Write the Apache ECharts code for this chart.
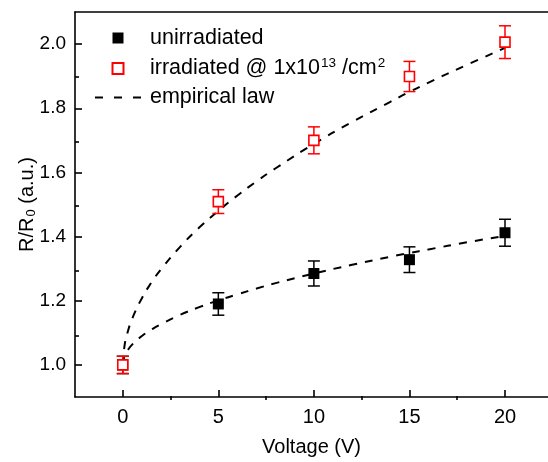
<!DOCTYPE html>
<html>
<head>
<meta charset="utf-8">
<script src="https://cdn.jsdelivr.net/npm/echarts@6/dist/echarts.min.js"></script>
<style>
html, body { margin: 0; padding: 0; background: #fff; }
#chart { width: 548px; height: 462px; }
</style>
</head>
<body>
<div id="chart"></div>
<script>
// measured points: voltage, R/R0, error
var voltages = [0, 5, 10, 15, 20];
var unirradiated = [1.0, 1.19, 1.285, 1.328, 1.412];
var unirradiatedErr = [0.027, 0.035, 0.039, 0.040, 0.042];
var irradiated = [1.0, 1.509, 1.70, 1.899, 2.006];
var irradiatedErr = [0.027, 0.037, 0.042, 0.047, 0.051];

// empirical law curves
var lawVoltages = [0, 0.1, 0.25, 0.5, 1, 1.5, 2, 3, 4, 5, 6, 7, 8, 10, 12, 14, 15, 16, 18, 20];
var lawUnirradiated = [1.0, 1.028, 1.045, 1.064, 1.090, 1.110, 1.127, 1.156, 1.180, 1.201, 1.220, 1.238, 1.255, 1.285, 1.312, 1.337, 1.349, 1.360, 1.382, 1.402];
var lawIrradiated = [1.0, 1.063, 1.101, 1.145, 1.208, 1.257, 1.298, 1.368, 1.428, 1.480, 1.528, 1.572, 1.613, 1.689, 1.757, 1.820, 1.851, 1.880, 1.935, 1.988];

// ticks
var xMajor = [0, 5, 10, 15, 20];
var xMinor = [2.5, 7.5, 12.5, 17.5];
var yMajor = [1.0, 1.2, 1.4, 1.6, 1.8, 2.0];
var yMinor = [1.1, 1.3, 1.5, 1.7, 1.9];

var FONT = 'Liberation Sans, Arial, sans-serif';
var SQUARE_ICON = 'path://M0,0H10V10H0Z';
var DASH_ICON = 'path://M0,0h8v2.2h-8zM19,0h8v2.2h-8zM38,0h8v2.2h-8z';

function zip(xs, ys, errs) {
    return xs.map(function (x, i) {
        return errs ? [x, ys[i], errs[i]] : [x, ys[i]];
    });
}

function errorBarItem(color) {
    return function (params, api) {
        var x = api.value(0), y = api.value(1), e = api.value(2);
        var top = api.coord([x, y + e]);
        var bot = api.coord([x, y - e]);
        var half = 6;
        var style = { stroke: color, lineWidth: 1.5 };
        return {
            type: 'group',
            children: [
                { type: 'line', shape: { x1: top[0], y1: top[1], x2: bot[0], y2: bot[1] }, style: style },
                { type: 'line', shape: { x1: top[0] - half, y1: top[1], x2: top[0] + half, y2: top[1] }, style: style },
                { type: 'line', shape: { x1: bot[0] - half, y1: bot[1], x2: bot[0] + half, y2: bot[1] }, style: style }
            ]
        };
    };
}

var chart = echarts.init(document.getElementById('chart'));

var gridPos = { left: 75, top: 12, right: 0, bottom: 62 };
var xRange = { min: -2.5, max: 22.25 };
var yRange = { min: 0.9, max: 2.1 };

var option = {
    animation: false,
    textStyle: { fontFamily: FONT },
    grid: [
        Object.assign({}, gridPos),
        Object.assign({}, gridPos)
    ],
    legend: {
        orient: 'vertical',
        left: 95,
        top: 27,
        padding: 0,
        itemWidth: 46,
        itemHeight: 11,
        itemGap: 7,
        symbolKeepAspect: true,
        data: [
            { name: 'unirradiated', icon: SQUARE_ICON },
            { name: 'irradiated @ 1x10^13 /cm^2', icon: SQUARE_ICON },
            { name: 'empirical law', icon: DASH_ICON }
        ],
        formatter: function (name) {
            if (name.indexOf('irradiated @') === 0) {
                return '{t|irradiated @ 1x10}{s|13}{t| /cm}{s|2}';
            }
            return '{t|' + name + '}';
        },
        textStyle: {
            padding: [0, 0, 0, 4],
            rich: {
                t: { fontSize: 21.5, color: '#000', fontFamily: FONT, lineHeight: 24 },
                s: { fontSize: 13.5, color: '#000', fontFamily: FONT, padding: [0, 0, 11, 1] }
            }
        }
    },
    xAxis: [
        {
            gridIndex: 0, type: 'value', position: 'bottom',
            min: xRange.min, max: xRange.max,
            name: 'Voltage (V)', nameLocation: 'middle', nameGap: 40,
            nameTextStyle: { fontSize: 20, color: '#000', fontFamily: FONT },
            axisLine: { show: true, onZero: false, lineStyle: { color: '#000', width: 1.6 } },
            axisTick: { show: true, inside: true, length: 7, customValues: xMajor, lineStyle: { color: '#000', width: 1.6 } },
            axisLabel: { show: true, customValues: xMajor, margin: 10, fontSize: 20, color: '#000', fontFamily: FONT },
            splitLine: { show: false }
        },
        {
            gridIndex: 0, type: 'value', position: 'top',
            min: xRange.min, max: xRange.max,
            axisLine: { show: true, onZero: false, lineStyle: { color: '#000', width: 1.6 } },
            axisTick: { show: false }, axisLabel: { show: false }, splitLine: { show: false }
        },
        {
            gridIndex: 1, type: 'value', position: 'bottom',
            min: xRange.min, max: xRange.max,
            axisLine: { show: false, onZero: false },
            axisTick: { show: true, inside: true, length: 4, customValues: xMinor, lineStyle: { color: '#000', width: 1.6 } },
            axisLabel: { show: false }, splitLine: { show: false }
        }
    ],
    yAxis: [
        {
            gridIndex: 0, type: 'value', position: 'left',
            min: yRange.min, max: yRange.max,
            name: '{t|R/R}{b|0}{t| (a.u.)}', nameLocation: 'middle', nameGap: 37,
            nameMoveOverlap: false,
            nameTextStyle: {
                rich: {
                    t: { fontSize: 20, color: '#000', fontFamily: FONT },
                    b: { fontSize: 13, color: '#000', fontFamily: FONT, padding: [8, 0, 0, 1] }
                }
            },
            axisLine: { show: true, onZero: false, lineStyle: { color: '#000', width: 1.6 } },
            axisTick: { show: true, inside: true, length: 7, customValues: yMajor, lineStyle: { color: '#000', width: 1.6 } },
            axisLabel: {
                show: true, customValues: yMajor, margin: 9, fontSize: 19, color: '#000', fontFamily: FONT,
                formatter: function (v) { return v.toFixed(1); }
            },
            splitLine: { show: false }
        },
        {
            gridIndex: 1, type: 'value', position: 'left',
            min: yRange.min, max: yRange.max,
            axisLine: { show: false, onZero: false },
            axisTick: { show: true, inside: true, length: 4, customValues: yMinor, lineStyle: { color: '#000', width: 1.6 } },
            axisLabel: { show: false }, splitLine: { show: false }
        }
    ],
    series: [
        {
            name: 'empirical law', type: 'line', xAxisIndex: 0, yAxisIndex: 0,
            data: zip(lawVoltages, lawUnirradiated), symbol: 'none', smooth: true,
            lineStyle: { color: '#000', width: 2, type: [8, 8] },
            itemStyle: { color: '#000' }, z: 2
        },
        {
            name: 'empirical law', type: 'line', xAxisIndex: 0, yAxisIndex: 0,
            data: zip(lawVoltages, lawIrradiated), symbol: 'none', smooth: true,
            lineStyle: { color: '#000', width: 2, type: [8, 8] },
            itemStyle: { color: '#000' }, z: 2
        },
        {
            name: 'unirradiated-err', type: 'custom', xAxisIndex: 0, yAxisIndex: 0,
            data: zip(voltages, unirradiated, unirradiatedErr),
            renderItem: errorBarItem('#000'), z: 3
        },
        {
            name: 'unirradiated', type: 'scatter', xAxisIndex: 0, yAxisIndex: 0,
            data: zip(voltages, unirradiated), symbol: 'rect', symbolSize: 11,
            itemStyle: { color: '#000', opacity: 1 }, z: 4
        },
        {
            name: 'irradiated-err', type: 'custom', xAxisIndex: 0, yAxisIndex: 0,
            data: zip(voltages, irradiated, irradiatedErr),
            renderItem: errorBarItem('#ff0000'), z: 5
        },
        {
            name: 'irradiated @ 1x10^13 /cm^2', type: 'scatter', xAxisIndex: 0, yAxisIndex: 0,
            data: zip(voltages, irradiated), symbol: 'rect', symbolSize: 10,
            itemStyle: { color: '#fff', borderColor: '#ff0000', borderWidth: 1.6, opacity: 1 }, z: 6
        }
    ]
};

chart.setOption(option);
</script>
</body>
</html>
